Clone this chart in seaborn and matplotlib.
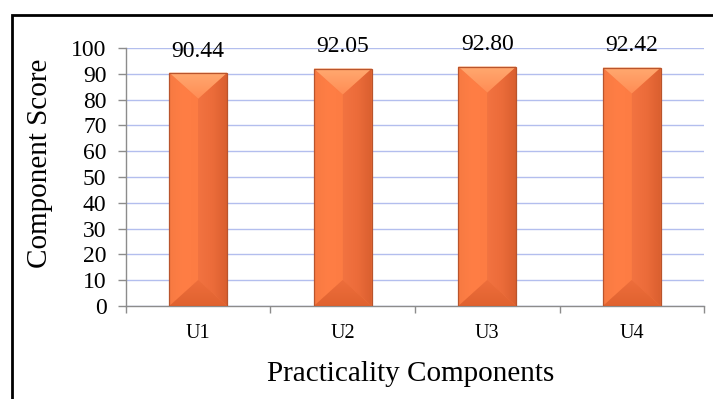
import numpy as np
import pandas as pd
import matplotlib
matplotlib.use("Agg")
import matplotlib.pyplot as plt
import seaborn as sns
from matplotlib.patches import Polygon, Rectangle
from matplotlib.ticker import MultipleLocator, FixedLocator

# Scores of each practicality component
components = ["U1", "U2", "U3", "U4"]
scores = [90.44, 92.05, 92.80, 92.42]
y_ticks = [0, 10, 20, 30, 40, 50, 60, 70, 80, 90, 100]

df = pd.DataFrame({"component": components, "score": scores})

sns.set_theme(style="white")
plt.rcParams["font.family"] = ["Liberation Serif", "DejaVu Serif"]

fig = plt.figure(figsize=(7.13, 3.99), dpi=100)
ax = fig.add_axes([0.1767, 0.2331, 0.8107, 0.6466])

sns.barplot(data=df, x="component", y="score", ax=ax, width=0.4,
            color="#F47A42", saturation=1, edgecolor="none", zorder=2)

ax.set_ylim(0, 100)
ax.set_xlim(-0.5, len(components) - 0.5)
ax.yaxis.set_major_locator(FixedLocator(y_ticks))
ax.set_yticklabels([str(v) for v in y_ticks])

# light blue horizontal gridlines
ax.set_axisbelow(True)
ax.yaxis.grid(True, color="#B3BEEE", linewidth=1.0)
ax.xaxis.grid(False)

for side in ("top", "right"):
    ax.spines[side].set_visible(False)
for side in ("left", "bottom"):
    ax.spines[side].set_color("#8C8C8C")
    ax.spines[side].set_linewidth(1.0)

ax.tick_params(axis="y", which="major", length=6, width=1, color="#8C8C8C",
               direction="out", left=True, labelsize=17, pad=8, labelcolor="black")
ax.xaxis.set_minor_locator(MultipleLocator(1, offset=0.5))
ax.tick_params(axis="x", which="major", length=0, labelsize=14.5, pad=13,
               labelcolor="black")
ax.tick_params(axis="x", which="minor", length=5, width=1, color="#8C8C8C",
               direction="out", bottom=True)

ax.set_xlabel("Practicality Components", fontsize=21, color="black")
ax.set_ylabel("Component Score", fontsize=21, color="black")
ax.xaxis.set_label_coords(0.493, -0.264)
ax.xaxis.label.set_va("center")
ax.yaxis.set_label_coords(-0.149, 0.554)
ax.yaxis.label.set_va("center")

# bevelled faces on each bar, built from the bar's own geometry
fig.canvas.draw()
px_per_x = ax.transData.transform((1, 0))[0] - ax.transData.transform((0, 0))[0]
px_per_y = ax.transData.transform((0, 1))[1] - ax.transData.transform((0, 0))[1]

def gradient_fill(poly, x0, x1, y0, y1, colors, horizontal=True, z=3):
    cmap = matplotlib.colors.LinearSegmentedColormap.from_list("g", colors)
    g = np.linspace(0, 1, 128)
    img = g[None, :] if horizontal else g[:, None]
    im = ax.imshow(img, cmap=cmap, extent=[x0, x1, y0, y1], origin="lower",
                   aspect="auto", interpolation="bilinear", zorder=z)
    im.set_clip_path(poly)

bars = list(ax.patches)
for bar in bars:
    x0 = bar.get_x()
    w = bar.get_width()
    x1 = x0 + w
    xm = x0 + w / 2
    y0 = bar.get_y()
    y1 = y0 + bar.get_height()
    d = 0.45 * w * px_per_x / px_per_y

    left = Polygon([(x0, y0), (xm, y0 + d), (xm, y1 - d), (x0, y1)],
                   closed=True, facecolor="none", edgecolor="none")
    right = Polygon([(xm, y0 + d), (x1, y0), (x1, y1), (xm, y1 - d)],
                    closed=True, facecolor="none", edgecolor="none")
    top = Polygon([(x0, y1), (x1, y1), (xm, y1 - d)],
                  closed=True, facecolor="none", edgecolor="none")
    bottom = Polygon([(x0, y0), (x1, y0), (xm, y0 + d)],
                     closed=True, facecolor="none", edgecolor="none")
    for p in (left, right, top, bottom):
        ax.add_patch(p)

    gradient_fill(left, x0, xm, y0, y1, ["#F77A42", "#FF7E45", "#FD7C43"])
    gradient_fill(right, xm, x1, y0, y1, ["#F27341", "#EC6C3A", "#DA5F2F"])
    gradient_fill(top, x0, x1, y1 - d, y1, ["#FF8C54", "#FFA970"], horizontal=False)
    gradient_fill(bottom, x0, x1, y0, y0 + d, ["#E0622F", "#EE6E3C"], horizontal=False)

    ax.add_patch(Rectangle((x0, y0), w, y1 - y0, facecolor="none",
                           edgecolor="#B9542C", linewidth=0.9, zorder=4))

ax.set_xlim(-0.5, len(components) - 0.5)
ax.set_ylim(0, 100)

ax.bar_label(ax.containers[0], labels=[f"{v:.2f}" for v in scores],
             padding=8, fontsize=17, color="black")

# outer chart frame
fig.patches.append(Rectangle((12 / 713, -0.1), 1.2, (399 - 14.5) / 399 + 0.1,
                             transform=fig.transFigure, facecolor="none",
                             edgecolor="black", linewidth=2.0, zorder=10))

fig.savefig("out.png", dpi=100, facecolor="white")
